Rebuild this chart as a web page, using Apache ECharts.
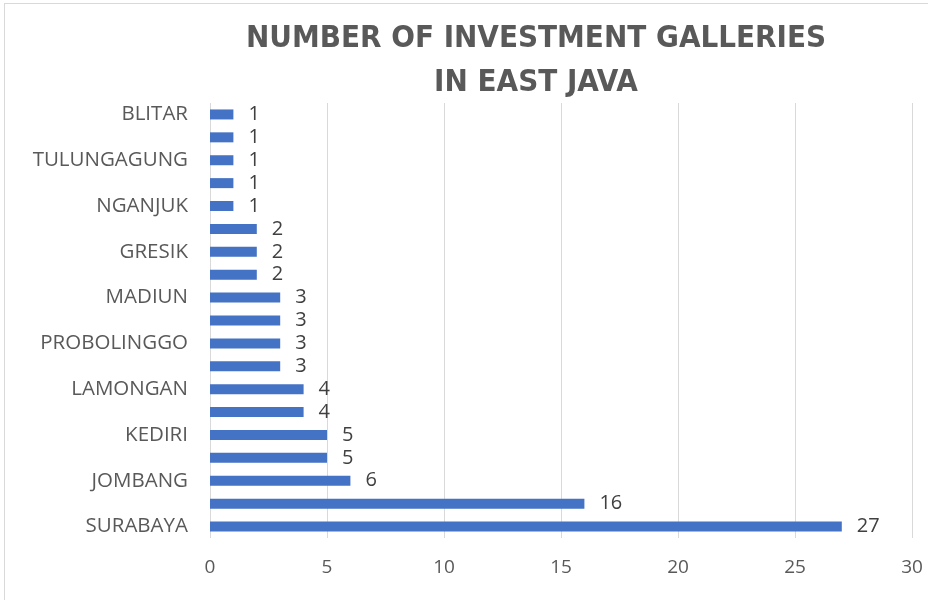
<!DOCTYPE html>
<html><head><meta charset="utf-8">
<script src="https://cdn.jsdelivr.net/npm/echarts@6/dist/echarts.min.js"></script>
<style>html,body{margin:0;padding:0;background:#fff}#c{width:928px;height:600px;}
#frame{position:absolute;left:4px;top:3px;width:940px;height:610px;border:1px solid #d9d9d9;pointer-events:none}</style>
</head><body><div id="c"></div><div id="frame"></div>
<script>
// bottom to top
const categories = ['SURABAYA','','JOMBANG','','KEDIRI','','LAMONGAN','','PROBOLINGGO','','MADIUN','','GRESIK','','NGANJUK','','TULUNGAGUNG','','BLITAR'];
const values = [27,16,6,5,5,4,4,3,3,3,3,2,2,2,1,1,1,1,1];
const titleLines = ['NUMBER OF INVESTMENT GALLERIES','IN EAST JAVA'];
const xTicks = {min:0, max:30, interval:5};

const chart = echarts.init(document.getElementById('c'));
chart.setOption({
  animation:false,
  backgroundColor:'#fff',
  title:{text:titleLines.join('\n'), left:531, top:12, textAlign:'center',
    textStyle:{fontFamily:'DejaVu Sans Condensed, sans-serif', fontWeight:'bold', fontSize:31, color:'#595959', lineHeight:44}},
  grid:{left:210, right:16, top:103, bottom:62, containLabel:false},
  xAxis:{type:'value', min:xTicks.min, max:xTicks.max, interval:xTicks.interval,
    axisLine:{show:false}, axisTick:{show:false},
    splitLine:{lineStyle:{color:'#d9d9d9', width:1}},
    axisLabel:{fontFamily:'Open Sans, sans-serif', fontSize:19, color:'#595959', margin:20}},
  yAxis:{type:'category', data:categories,
    axisLine:{show:false}, axisTick:{show:false},
    axisLabel:{interval:0, fontFamily:'Open Sans, sans-serif', fontSize:20.5, color:'#595959', margin:22}},
  series:[{type:'bar', data:values, barWidth:10,
    itemStyle:{color:'#4472C4'},
    label:{show:true, position:'right', distance:15, fontFamily:'Open Sans, sans-serif', fontSize:20, color:'#404040'}}]
});
</script></body></html>
